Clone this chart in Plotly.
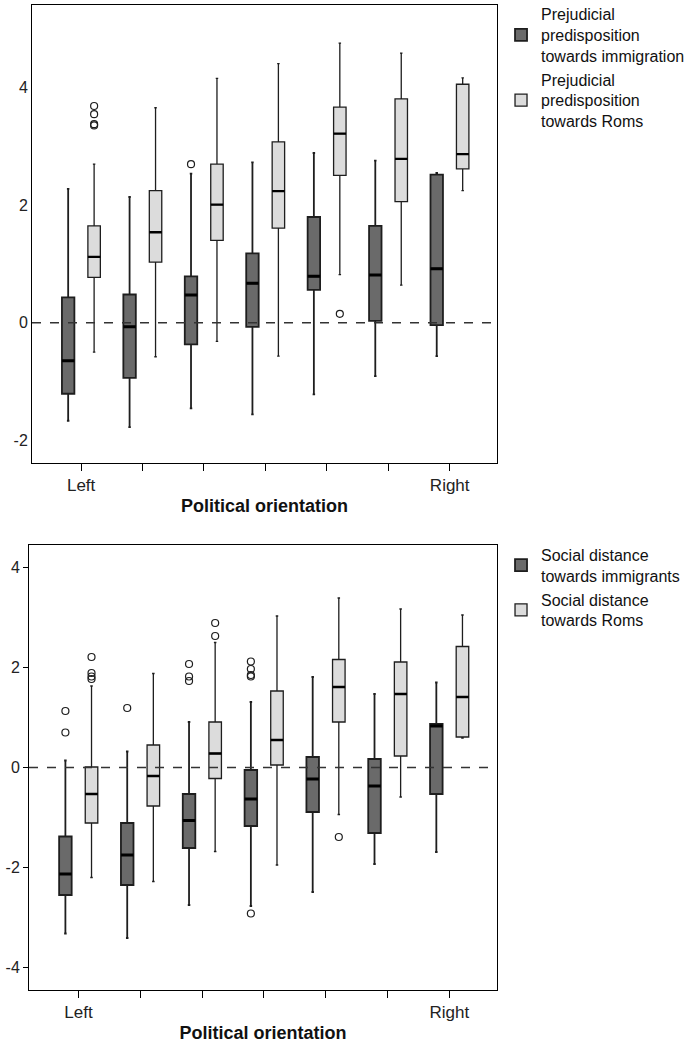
import plotly.graph_objects as go

groups = [1, 2, 3, 4, 5, 6, 7]
tick_text = ["Left", "", "", "", "", "", "Right"]

# ---- Top panel: prejudicial predisposition ----
pi_low = [-1.67, -1.78, -1.46, -1.56, -1.22, -0.91, -0.57]
pi_q1 = [-1.21, -0.94, -0.37, -0.07, 0.56, 0.03, -0.04]
pi_med = [-0.65, -0.07, 0.47, 0.67, 0.79, 0.81, 0.92]
pi_q3 = [0.43, 0.48, 0.79, 1.18, 1.80, 1.65, 2.52]
pi_up = [2.28, 2.14, 2.54, 2.73, 2.89, 2.76, 2.55]
pi_out = [[], [], [2.70], [], [], [], []]

pr_low = [-0.50, -0.58, -0.32, -0.57, 0.82, 0.64, 2.25]
pr_q1 = [0.77, 1.03, 1.40, 1.61, 2.51, 2.06, 2.62]
pr_med = [1.12, 1.54, 2.01, 2.24, 3.22, 2.79, 2.87]
pr_q3 = [1.65, 2.25, 2.70, 3.08, 3.67, 3.81, 4.06]
pr_up = [2.70, 3.66, 4.16, 4.41, 4.76, 4.59, 4.17]
pr_out = [[3.69, 3.55, 3.38, 3.36], [], [], [], [0.15], [], []]

# ---- Bottom panel: social distance ----
si_low = [-3.32, -3.41, -2.75, -2.77, -2.49, -1.93, -1.69]
si_q1 = [-2.55, -2.35, -1.61, -1.17, -0.89, -1.31, -0.53]
si_med = [-2.13, -1.75, -1.06, -0.63, -0.23, -0.37, 0.83]
si_q3 = [-1.38, -1.11, -0.53, -0.05, 0.21, 0.17, 0.87]
si_up = [0.14, 0.32, 0.91, 1.31, 1.81, 1.47, 1.70]
si_out = [[1.13, 0.70], [1.19], [2.07, 1.82, 1.73], [2.12, 1.97, 1.85, 1.82, -2.92], [], [], []]

sr_low = [-2.20, -2.28, -1.68, -1.95, -0.94, -0.59, 0.59]
sr_q1 = [-1.11, -0.77, -0.22, 0.05, 0.91, 0.23, 0.61]
sr_med = [-0.53, -0.17, 0.28, 0.55, 1.61, 1.47, 1.41]
sr_q3 = [0.01, 0.45, 0.91, 1.53, 2.16, 2.11, 2.42]
sr_up = [1.63, 1.88, 2.50, 3.03, 3.39, 3.17, 3.05]
sr_out = [[2.21, 1.89, 1.82, 1.77], [], [2.89, 2.63], [], [-1.39], [], []]

y_ticks_top = [-2, 0, 2, 4]
y_ticks_bottom = [-4, -2, 0, 2, 4]

DARK = "#6a6a6a"
LIGHT = "#dcdcdc"
EDGE = "#1e1e1e"
FONT = "Arial, Liberation Sans, sans-serif"

fig = go.Figure()


def add_box(name, low, q1, med, q3, up, outs, fill, xa, ya, legend, offset, lw, mw):
    # sample rows: the median plus the outliers (only points beyond fences are drawn)
    samples = [[m] + list(o) for m, o in zip(med, outs)]
    fig.add_trace(go.Box(
        name=name, x=groups, y=samples,
        lowerfence=low, q1=q1, median=med, q3=q3, upperfence=up,
        boxpoints="outliers", jitter=0, pointpos=0,
        fillcolor=fill, line=dict(color=EDGE, width=lw),
        whiskerwidth=0.2,
        marker=dict(symbol="circle-open", size=7, color=EDGE,
                    line=dict(width=1.2, color=EDGE)),
        xaxis=xa, yaxis=ya, legend=legend, offsetgroup=offset,
        hoverinfo="skip",
    ))
    # thicker median bar
    fig.add_trace(go.Box(
        name=name + " median", x=groups,
        lowerfence=med, q1=med, median=med, q3=med, upperfence=med,
        boxpoints=False, fillcolor="rgba(0,0,0,0)",
        line=dict(color="#000000", width=mw), whiskerwidth=0,
        xaxis=xa, yaxis=ya, legend=legend, offsetgroup=offset,
        showlegend=False, hoverinfo="skip",
    ))


add_box("Prejudicial<br>predisposition<br>towards immigration",
        pi_low, pi_q1, pi_med, pi_q3, pi_up, pi_out, DARK, "x", "y", "legend", "a", 1.8, 3)
add_box("Prejudicial<br>predisposition<br>towards Roms",
        pr_low, pr_q1, pr_med, pr_q3, pr_up, pr_out, LIGHT, "x", "y", "legend", "b", 1.3, 2.4)
add_box("Social distance<br>towards immigrants",
        si_low, si_q1, si_med, si_q3, si_up, si_out, DARK, "x2", "y2", "legend2", "a", 1.8, 3)
add_box("Social distance<br>towards Roms",
        sr_low, sr_q1, sr_med, sr_q3, sr_up, sr_out, LIGHT, "x2", "y2", "legend2", "b", 1.3, 2.4)

for xr, yr in [("x domain", "y"), ("x2 domain", "y2")]:
    fig.add_shape(type="line", xref=xr, yref=yr, x0=0, x1=1, y0=0, y1=0,
                  line=dict(color="#333333", width=1.5, dash="dash"), layer="above")

axis_common = dict(showline=True, linecolor="black", linewidth=1, mirror=True,
                   showgrid=False, zeroline=False)
xcommon = dict(axis_common, tickmode="array", tickvals=groups, ticktext=tick_text,
               ticks="outside", ticklen=7, tickcolor="black", range=[0.2, 7.77],
               tickfont=dict(size=17, color="#222"),
               title=dict(text="<b>Political orientation</b>",
                          font=dict(size=18, color="#111"), standoff=4))

fig.update_layout(
    width=688, height=1058,
    margin=dict(l=29, r=191, t=5, b=68, autoexpand=False),
    paper_bgcolor="white", plot_bgcolor="white",
    font=dict(family=FONT, color="#222"),
    boxmode="group", boxgap=0.155, boxgroupgap=0.52,
    xaxis=dict(xcommon, domain=[0.0064, 1], anchor="y"),
    yaxis=dict(axis_common, domain=[0.535, 1], anchor="x", range=[-2.39, 5.41],
               tickmode="array", tickvals=y_ticks_top,
               ticktext=[str(v) for v in y_ticks_top],
               ticks="", tickfont=dict(size=16, color="#222")),
    xaxis2=dict(xcommon, domain=[0, 1], anchor="y2"),
    yaxis2=dict(axis_common, domain=[0, 0.4518], anchor="x2", range=[-4.45, 4.45],
                tickmode="array", tickvals=y_ticks_bottom,
                ticktext=[str(v) for v in y_ticks_bottom],
                ticks="outside", ticklen=5, tickcolor="black",
                tickfont=dict(size=16, color="#222")),
    legend=dict(x=1.0086, xanchor="left", y=1.008, yanchor="top",
                font=dict(size=16, color="#111"), tracegroupgap=4,
                bgcolor="rgba(0,0,0,0)"),
    legend2=dict(x=1.0086, xanchor="left", y=0.459, yanchor="top",
                 font=dict(size=16, color="#111"), tracegroupgap=4,
                 bgcolor="rgba(0,0,0,0)"),
    showlegend=True,
)

fig.write_html("out.html", config={"displayModeBar": False},
               post_script="document.body.style.margin='0px';")
